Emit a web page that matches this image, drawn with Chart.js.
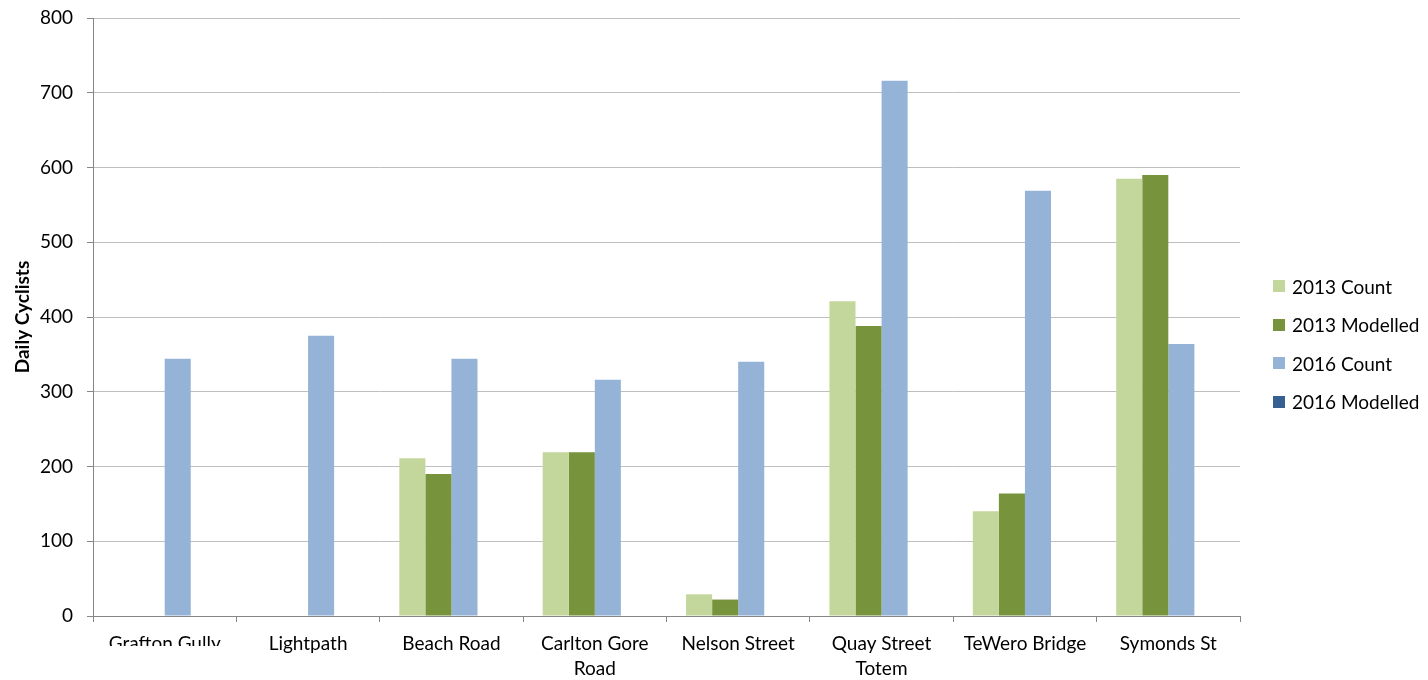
<!DOCTYPE html>
<html>
<head>
<meta charset="utf-8">
<script src="https://cdn.jsdelivr.net/npm/chart.js@4.4.1/dist/chart.umd.min.js"></script>
<style>
  body { margin: 0; background: #fff; }
  #wrap { position: relative; width: 1428px; height: 680px; }
  #legend { position: absolute; left: 1273px; top: 267px; font-family: Lato, sans-serif; font-size: 19px; color: #000; }
  #legend div { height: 38.5px; display: flex; align-items: center; }
  #legend span.box { display: inline-block; width: 12px; height: 12px; margin-right: 7px; }
  #mask { position: absolute; left: 0; top: 646px; width: 245px; height: 34px; background: #fff; }
</style>
</head>
<body>
<div id="wrap">
  <canvas id="mycanvas" width="1428" height="680"></canvas>
  <div id="legend"></div>
  <div id="mask"></div>
</div>
<script>
var sites = ["Grafton Gully", "Lightpath", "Beach Road", ["Carlton Gore", "Road"], "Nelson Street", ["Quay Street", "Totem"], "TeWero Bridge", "Symonds St"];
var count2013 = [null, null, 211, 219, 29, 421, 140, 585];
var modelled2013 = [null, null, 190, 219, 22, 388, 164, 590];
var count2016 = [344, 375, 344, 316, 340, 716, 569, 364];
var modelled2016 = [null, null, null, null, null, null, null, null];
var yTicks = [0, 100, 200, 300, 400, 500, 600, 700, 800];

var chartdata = {
	labels: sites,
	datasets: [
		{ label: "2013 Count", backgroundColor: "#C3D69B", data: count2013 },
		{ label: "2013 Modelled", backgroundColor: "#77933C", data: modelled2013 },
		{ label: "2016 Count", backgroundColor: "#95B3D7", data: count2016 },
		{ label: "2016 Modelled", backgroundColor: "#376092", data: modelled2016 }
	]
};

var ctx = document.getElementById("mycanvas");
var barChart = new Chart(ctx, {
	type: 'bar',
	data: chartdata,
	options: {
		responsive: false,
		animation: false,
		layout: { padding: { top: 18, right: 188, left: 0, bottom: 0 } },
		datasets: { bar: { categoryPercentage: 0.727, barPercentage: 1 } },
		plugins: { legend: { display: false }, tooltip: { enabled: false } },
		scales: {
			x: {
				offset: true,
				afterFit: function(s) { s.height = 64; s.paddingLeft = 0; s.paddingRight = 0; },
				grid: { offset: true, drawOnChartArea: false, drawTicks: true, tickLength: 6, color: "#868686" },
				border: { color: "#868686" },
				ticks: { color: "#000", padding: 10, maxRotation: 0, autoSkip: false, font: { family: "Lato", size: 19, lineHeight: 1.3 } }
			},
			y: {
				min: 0, max: 800,
				afterFit: function(s) { s.width = 93; s.paddingTop = 0; s.paddingBottom = 0; },
				afterBuildTicks: function(s) { s.ticks = yTicks.map(function(v) { return { value: v }; }); },
				grid: { color: "#BFBFBF", tickLength: 6, tickColor: "#868686" },
				border: { color: "#868686" },
				ticks: { color: "#000", padding: 14, font: { family: "Lato", size: 19 } },
				title: { display: true, text: "Daily Cyclists", color: "#000", padding: { top: 11, bottom: 0 }, font: { family: "Lato", size: 19, weight: "bold" } }
			}
		}
	}
});

var legend = document.getElementById("legend");
chartdata.datasets.forEach(function(ds) {
	var row = document.createElement("div");
	row.innerHTML = '<span class="box" style="background:' + ds.backgroundColor + '"></span>' + ds.label;
	legend.appendChild(row);
});
</script>
</body>
</html>
